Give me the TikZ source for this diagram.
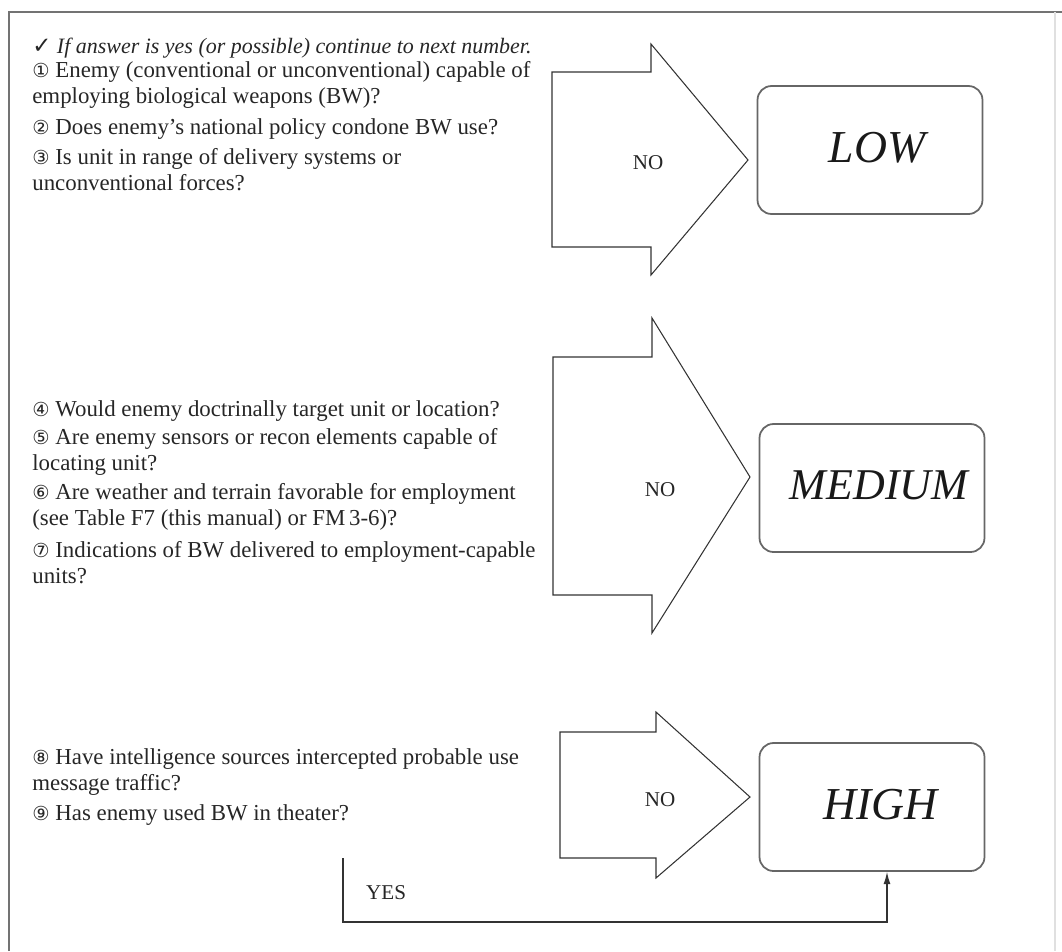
\documentclass[tikz,border=0pt]{standalone}
\usepackage{fontspec}
\setmainfont{Liberation Serif}
\newfontfamily\symfont{DejaVu Sans}
\usetikzlibrary{arrows.meta,positioning,calc}

\newcommand\cnum[1]{{\symfont\fontsize{11}{14}\selectfont #1}}

\begin{document}
\begin{tikzpicture}[x=0.02cm, y=-0.02cm, >=Latex,
    qtext/.style={anchor=base west, align=left, inner sep=0pt, text=black!85,
      font=\fontsize{13}{14.5}\selectfont},
    notext/.style={font=\fontsize{12}{14}\selectfont, text=black!85},
    threat/.style={draw=black!60, line width=1pt, rounded corners=0.28cm,
      minimum width=4.5cm, minimum height=2.56cm, text=black!90,
      font=\fontsize{26}{30}\selectfont\itshape},
    blockarrow/.style={draw=black!80, line width=0.6pt, line join=miter}]
  \useasboundingbox (0,0) rectangle (1062,951);
  %% frame (bottom edge cut off)
  \draw[black!55, line width=1.4pt] (9,951) -- (9,12) -- (1062,12);
  \draw[black!12, line width=0.6pt] (1055,12) -- (1055,951);

  %% instruction line
  \node[qtext, font=\fontsize{12.5}{14.5}\selectfont] (chk) at (32,53)
    {{\symfont\fontsize{13}{14}\selectfont ✓}\ \textit{If answer is yes (or possible) continue to next number.}};

  %% questions -- format: name/baseline of last line/text
  \foreach \nm/\yy/\txt in {
    q1/103/{\cnum{①} Enemy (conventional or unconventional) capable of\\employing biological weapons (BW)?},
    q2/134/{\cnum{②} Does enemy's national policy condone BW use?},
    q3/190/{\cnum{③} Is unit in range of delivery systems or\\unconventional forces?},
    q4/416/{\cnum{④} Would enemy doctrinally target unit or location?},
    q5/470/{\cnum{⑤} Are enemy sensors or recon elements capable of\\locating unit?},
    q6/525/{\cnum{⑥} Are weather and terrain favorable for employment\\(see Table F7 (this manual) or FM\,3-6)?},
    q7/583/{\cnum{⑦} Indications of BW delivered to employment-capable\\units?},
    q8/790/{\cnum{⑧} Have intelligence sources intercepted probable use\\message traffic?},
    q9/820/{\cnum{⑨} Has enemy used BW in theater?}}{
    \node[qtext] (\nm) at (32,\yy) {\txt};
  }

  %% block arrows
  \draw[blockarrow] (552,72) -- (651,72) -- (651,44) -- (748,160)
    -- (651,275) -- (651,247) -- (552,247) -- cycle;
  \node[notext] (no1) at (648,163) {NO};
  \draw[blockarrow] (553,357) -- (652,357) -- (652,318) -- (750,477)
    -- (652,633) -- (652,595) -- (553,595) -- cycle;
  \node[notext] (no2) at (660,490) {NO};
  \draw[blockarrow] (560,732) -- (656,732) -- (656,712) -- (750,797)
    -- (656,878) -- (656,858) -- (560,858) -- cycle;
  \node[notext] (no3) at (660,800) {NO};

  %% threat levels
  \node[threat] (low)    at (870,150) {\raisebox{3pt}{\hspace*{8pt}LOW}};
  \node[threat] (medium) at (872,488)
    {\raisebox{3pt}{\hspace*{8pt}\fontsize{25}{30}\selectfont MEDIUM}};
  \node[threat] (high)   at (872,807) {\raisebox{3pt}{\hspace*{10pt}HIGH}};

  %% yes path to HIGH
  \coordinate (yesstart) at (343,858);
  \coordinate (yesend) at (887,922);
  \draw[black!80, line width=0.7pt, -{Latex[length=7pt,width=4pt]}]
    (yesstart) |- (yesend) -- (yesend |- high.south);
  \node[notext, anchor=west] (yes) at (360,893) {YES};
\end{tikzpicture}
\end{document}
